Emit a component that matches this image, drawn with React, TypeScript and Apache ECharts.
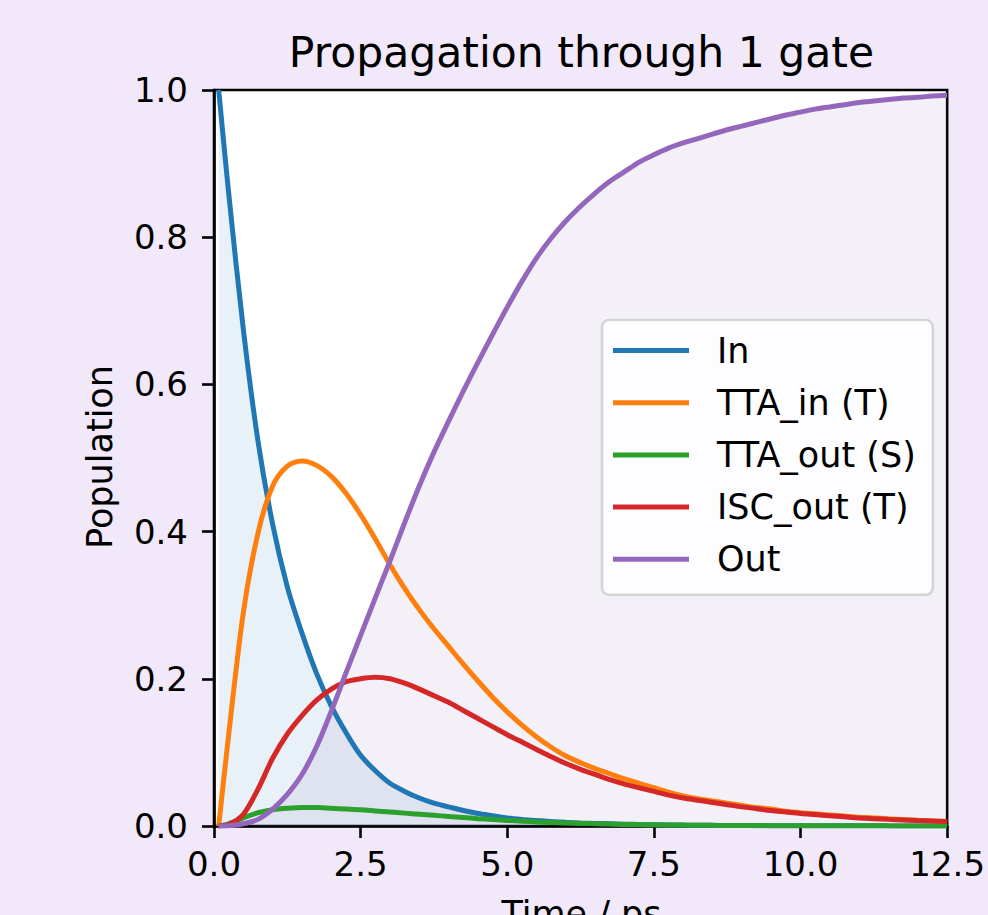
import React, { useEffect, useRef } from 'react';
import * as echarts from 'echarts';

// Time grid (ps)
const times = [0.08, 0.25, 0.5, 0.75, 1, 1.25, 1.5, 1.75, 2, 2.25, 2.5, 2.75, 3, 3.25, 3.5, 3.75, 4, 4.25, 4.5, 4.75, 5, 5.25, 5.5, 5.75, 6, 6.25, 6.5, 6.75, 7, 7.25, 7.5, 7.75, 8, 8.25, 8.5, 8.75, 9, 9.25, 9.5, 9.75, 10, 10.25, 10.5, 10.75, 11, 11.25, 11.5, 11.75, 12, 12.25, 12.5];

// Populations
const popIn = [1.0, 0.86, 0.675, 0.523, 0.41, 0.325, 0.262, 0.207, 0.163, 0.127, 0.096, 0.075, 0.058, 0.047, 0.038, 0.031, 0.026, 0.021, 0.017, 0.014, 0.011, 0.009, 0.0075, 0.006, 0.005, 0.0042, 0.0035, 0.003, 0.0025, 0.002, 0.0017, 0.0014, 0.0012, 0.001, 0.0009, 0.0007, 0.0006, 0.0005, 0.0004, 0.00035, 0.0003, 0.00027, 0.00025, 0.00022, 0.0002, 0.00018, 0.00016, 0.00014, 0.00012, 0.00011, 0.0001];
const popTTAin = [0, 0.124, 0.29, 0.398, 0.462, 0.489, 0.496, 0.49, 0.475, 0.452, 0.423, 0.39, 0.355, 0.323, 0.294, 0.268, 0.244, 0.22, 0.197, 0.175, 0.155, 0.137, 0.121, 0.107, 0.095, 0.086, 0.078, 0.071, 0.064, 0.058, 0.052, 0.046, 0.041, 0.037, 0.034, 0.031, 0.028, 0.025, 0.023, 0.02, 0.018, 0.0165, 0.015, 0.0135, 0.012, 0.011, 0.0098, 0.0088, 0.0078, 0.0069, 0.006];
const popTTAout = [0, 0.003, 0.011, 0.018, 0.022, 0.024, 0.025, 0.025, 0.024, 0.023, 0.022, 0.0205, 0.019, 0.0175, 0.016, 0.0145, 0.013, 0.0115, 0.01, 0.0088, 0.0075, 0.0065, 0.0055, 0.0047, 0.004, 0.0035, 0.003, 0.0026, 0.0022, 0.0019, 0.0016, 0.0014, 0.0012, 0.0011, 0.0009, 0.0008, 0.0007, 0.0006, 0.0005, 0.00045, 0.0004, 0.00035, 0.0003, 0.00027, 0.00024, 0.00021, 0.00018, 0.00016, 0.00014, 0.00012, 0.0001];
const popISCout = [0, 0.002, 0.016, 0.05, 0.092, 0.125, 0.15, 0.171, 0.186, 0.196, 0.2, 0.202, 0.2, 0.194, 0.186, 0.177, 0.168, 0.157, 0.146, 0.135, 0.124, 0.114, 0.104, 0.094, 0.085, 0.077, 0.07, 0.063, 0.057, 0.052, 0.047, 0.042, 0.038, 0.035, 0.032, 0.029, 0.026, 0.0235, 0.021, 0.019, 0.017, 0.0155, 0.014, 0.0125, 0.011, 0.01, 0.009, 0.0082, 0.0074, 0.0067, 0.006];
const popOut = [0, 0.0003, 0.003, 0.009, 0.023, 0.043, 0.07, 0.108, 0.156, 0.208, 0.259, 0.31, 0.36, 0.412, 0.462, 0.508, 0.55, 0.591, 0.63, 0.668, 0.705, 0.74, 0.772, 0.799, 0.822, 0.842, 0.86, 0.876, 0.889, 0.902, 0.912, 0.921, 0.928, 0.934, 0.94, 0.946, 0.951, 0.956, 0.961, 0.966, 0.97, 0.974, 0.977, 0.98, 0.983, 0.985, 0.987, 0.989, 0.99, 0.992, 0.993];

const seriesNames = ['In', 'TTA_in (T)', 'TTA_out (S)', 'ISC_out (T)', 'Out'];
const seriesValues = [popIn, popTTAin, popTTAout, popISCout, popOut];
const colors = ['#1f77b4', '#ff7f0e', '#2ca02c', '#d62728', '#9467bd'];

const titleText = 'Propagation through 1 gate';
const xLabel = 'Time / ps';
const yLabel = 'Population';

const FONT = '"DejaVu Sans", sans-serif';

export default function App() {
  const ref = useRef<HTMLDivElement>(null);

  useEffect(() => {
    if (!ref.current) return;
    const chart = echarts.init(ref.current, undefined, { renderer: 'svg' });

    const toPairs = (arr: number[]) => times.map((t, i) => [t, arr[i]]);

    const lineSeries = seriesNames.map((name, i) => ({
      name,
      type: 'line',
      data: toPairs(seriesValues[i]),
      showSymbol: false,
      symbol: 'none',
      smooth: 0.3,
      lineStyle: { width: 5, color: colors[i] },
      itemStyle: { color: colors[i] },
      z: 3,
    }));

    const fillSeries = [
      { name: 'In fill', arr: popIn, color: 'rgba(31,119,180,0.1)' },
      { name: 'Out fill', arr: popOut, color: 'rgba(148,103,189,0.1)' },
    ].map((f) => ({
      name: f.name,
      type: 'line',
      data: toPairs(f.arr),
      showSymbol: false,
      symbol: 'none',
      smooth: 0.3,
      lineStyle: { width: 0, opacity: 0 },
      areaStyle: { color: f.color, opacity: 1 },
      silent: true,
      z: 2,
    }));

    chart.setOption({
      animation: false,
      backgroundColor: '#f1e8fa',
      grid: {
        left: 214,
        right: 39,
        top: 90,
        bottom: 89,
        show: true,
        backgroundColor: '#ffffff',
        borderColor: '#000000',
        borderWidth: 2.6,
      },
      xAxis: {
        type: 'value',
        min: 0,
        max: 12.5,
        interval: 2.5,
        axisLine: { show: true, onZero: false, lineStyle: { color: '#000', width: 2.6 } },
        axisTick: { show: true, length: 12, lineStyle: { color: '#000', width: 2.6 } },
        axisLabel: {
          fontFamily: FONT,
          fontSize: 34,
          color: '#000',
          margin: 21,
          formatter: (v: number) => v.toFixed(1),
        },
        splitLine: { show: false },
      },
      yAxis: {
        type: 'value',
        min: 0,
        max: 1,
        interval: 0.2,
        axisLine: { show: true, onZero: false, lineStyle: { color: '#000', width: 2.6 } },
        axisTick: { show: true, length: 12, lineStyle: { color: '#000', width: 2.6 } },
        axisLabel: {
          fontFamily: FONT,
          fontSize: 34,
          color: '#000',
          margin: 26,
          formatter: (v: number) => v.toFixed(1),
        },
        splitLine: { show: false },
      },
      legend: {
        data: seriesNames,
        orient: 'vertical',
        left: 602,
        top: 320,
        icon: 'rect',
        itemWidth: 76,
        itemHeight: 5,
        itemGap: 17.2,
        padding: [13, 17, 18, 11],
        backgroundColor: 'rgba(255,255,255,0.8)',
        borderColor: 'rgba(204,204,204,0.8)',
        borderWidth: 2.6,
        borderRadius: 7,
        selectedMode: false,
        textStyle: {
          fontFamily: FONT,
          fontSize: 35,
          color: '#000',
          lineHeight: 34,
          padding: [0, 0, 0, 23],
        },
      },
      graphic: [
        {
          type: 'text',
          x: 581.5,
          y: 52,
          style: {
            text: titleText,
            font: `42.5px ${FONT}`,
            fill: '#000',
            align: 'center',
            verticalAlign: 'middle',
          },
        },
        {
          type: 'text',
          x: 581.5,
          y: 914,
          style: {
            text: xLabel,
            font: `35px ${FONT}`,
            fill: '#000',
            align: 'center',
            verticalAlign: 'middle',
          },
        },
        {
          type: 'text',
          x: 100,
          y: 457,
          rotation: Math.PI / 2,
          style: {
            text: yLabel,
            font: `35px ${FONT}`,
            fill: '#000',
            align: 'center',
            verticalAlign: 'middle',
          },
        },
      ],
      series: [...fillSeries, ...lineSeries],
    });

    return () => chart.dispose();
  }, []);

  return (
    <div
      ref={ref}
      style={{ position: 'fixed', left: 0, top: 0, width: 988, height: 915 }}
    />
  );
}
